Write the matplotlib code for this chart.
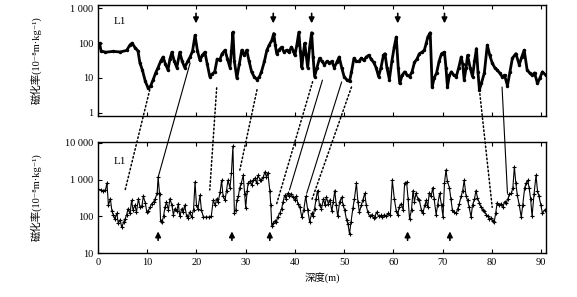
import numpy as np
import matplotlib
matplotlib.use("Agg")
import matplotlib.pyplot as plt
from matplotlib.patches import ConnectionPatch
from matplotlib.ticker import FixedLocator, NullLocator

plt.rcParams['font.family'] = ['Liberation Serif', 'DejaVu Serif', 'Noto Sans CJK SC']

# upper core: depth (m) / susceptibility
top_depth = [0, 0.3, 0.6, 1.5, 3, 4.5, 5.8, 6.5, 6.9, 7.5, 8.1, 8.5, 9.0, 9.6, 10.2, 10.7, 11.2, 11.7,
             12.2, 12.7, 13.2, 13.7, 14.2, 14.6, 15.0, 15.5, 16.0, 16.6, 17.1, 17.6, 18.2, 18.7, 19.2,
             19.7, 20.2, 20.7, 21.2, 21.7, 22.2, 22.7, 23.2, 23.7, 24.2, 24.7, 25.2, 25.8, 26.3, 26.8,
             27.1, 27.4, 27.7, 28.2, 28.7, 29.2, 29.7, 30.2, 30.7, 31.2, 31.7, 32.3, 32.8, 33.2, 33.8,
             34.3, 34.8, 35.3, 35.7, 36.0, 36.3, 36.8, 37.3, 37.8, 38.3, 38.8, 39.3, 39.7, 40.0, 40.4,
             40.8, 41.1, 41.4, 41.7, 42.0, 42.3, 42.6, 43.0, 43.4, 43.7, 44.0, 44.5, 45.0, 45.5, 46.0,
             46.5, 47.0, 47.5, 48.0, 48.5, 49.0, 49.5, 50.0, 50.5, 51.1, 51.5, 52.0, 52.5, 53.0, 53.5,
             54.0, 54.5, 55.0, 55.5, 56.0, 56.5, 57.0, 57.5, 58.0, 58.3, 58.7, 59.2, 59.7, 60.2, 60.6,
             61.0, 61.3, 61.8, 62.3, 62.8, 63.3, 63.8, 64.3, 64.8, 65.3, 65.8, 66.3, 66.7, 67.0, 67.5,
             67.9, 68.3, 68.8, 69.3, 69.8, 70.4, 70.7, 71.0, 71.4, 71.8, 72.3, 72.8, 73.3, 73.8, 74.1,
             74.4, 74.8, 75.1, 75.6, 76.1, 76.5, 76.9, 77.2, 77.5, 77.9, 78.5, 79.1, 79.6, 80.1, 80.6,
             81.1, 81.6, 82.1, 82.6, 83.2, 83.7, 84.2, 84.9, 85.6, 86.1, 86.6, 87.2, 87.7, 88.2, 88.7,
             89.3, 89.8, 90.3, 91]
top_val = [80, 100, 60, 55, 58, 56, 62, 90, 100, 75, 60, 27, 17, 8, 5, 6, 9, 14,
           20, 30, 40, 25, 17, 35, 55, 30, 20, 55, 30, 20, 30, 40, 60,
           168, 60, 32, 45, 55, 25, 11, 13, 15, 35, 32, 50, 63, 35, 20,
           60, 208, 30, 10, 25, 63, 45, 63, 30, 15, 11, 9, 11, 15, 30,
           63, 90, 120, 190, 90, 50, 65, 77, 55, 63, 55, 77, 60, 45, 90,
           208, 60, 20, 50, 100, 45, 20, 80, 200, 40, 11, 20, 37, 30, 24,
           30, 27, 30, 20, 28, 40, 20, 11, 9, 8, 15, 37, 30, 30, 37,
           32, 40, 45, 35, 28, 20, 11, 20, 45, 50, 20, 9, 30, 80, 150,
           20, 7, 12, 15, 12, 11, 15, 28, 35, 50, 55, 63, 100, 150, 200,
           5.5, 10, 14, 30, 50, 55, 20, 5.5, 12, 15, 12, 11, 20, 40, 25,
           9, 20, 45, 20, 11, 30, 70, 15, 4.6, 7, 14, 88, 45, 27, 20,
           17, 14, 11, 12, 6, 15, 37, 50, 24, 40, 63, 17, 14, 12, 14,
           7, 10, 15, 12]

# lower core
bot_depth = [0, 0.5, 1.0, 1.5, 1.8, 2.1, 2.5, 2.8, 3.1, 3.4, 3.8, 4.1, 4.5, 4.8, 5.2, 5.5, 5.8, 6.1,
             6.5, 6.8, 7.1, 7.5, 7.8, 8.2, 8.5, 8.9, 9.2, 9.6, 9.9, 10.2, 10.6, 10.9, 11.3, 11.6, 12.0,
             12.2, 12.5, 12.7, 13.0, 13.3, 13.6, 13.9, 14.3, 14.6, 15.0, 15.3, 15.6, 16.0, 16.3, 16.6,
             17.0, 17.3, 17.6, 18.0, 18.3, 18.6, 19.0, 19.4, 19.7, 20.0, 20.3, 20.7, 21.0, 21.4, 22.0,
             22.5, 23.0, 23.4, 23.8, 24.1, 24.4, 24.8, 25.1, 25.4, 25.8, 26.1, 26.4, 26.8, 27.1, 27.4,
             27.7, 28.0, 28.2, 28.5, 28.8, 29.1, 29.5, 29.8, 30.0, 30.3, 30.5, 30.9, 31.2, 31.5, 31.9,
             32.2, 32.5, 32.9, 33.2, 33.6, 33.9, 34.2, 34.5, 34.9, 35.1, 35.3, 35.6, 35.9, 36.2, 36.5,
             36.9, 37.3, 37.6, 37.9, 38.2, 38.5, 38.9, 39.2, 39.6, 40.0, 40.3, 40.6, 41.0, 41.4, 41.8,
             42.2, 42.6, 43.0, 43.4, 43.7, 44.0, 44.3, 44.6, 45.0, 45.4, 45.8, 46.1, 46.4, 46.8, 47.1,
             47.5, 47.8, 48.1, 48.4, 48.7, 49.1, 49.5, 49.8, 50.1, 50.5, 50.8, 51.1, 51.4, 51.8, 52.1,
             52.5, 52.8, 53.1, 53.5, 53.8, 54.2, 54.5, 54.8, 55.2, 55.6, 56.0, 56.2, 56.6, 57.0, 57.4,
             57.8, 58.2, 58.6, 59.0, 59.4, 59.8, 60.2, 60.6, 60.9, 61.2, 61.6, 62.0, 62.3, 62.7, 63.0,
             63.3, 63.7, 64.0, 64.3, 64.6, 65.0, 65.3, 65.7, 66.0, 66.4, 66.7, 67.0, 67.3, 67.7, 68.0,
             68.3, 68.7, 69.0, 69.4, 69.8, 70.1, 70.4, 70.7, 71.0, 71.4, 71.7, 72.0, 72.4, 72.8, 73.1,
             73.4, 73.8, 74.1, 74.4, 74.8, 75.1, 75.4, 75.8, 76.1, 76.5, 76.8, 77.1, 77.5, 77.8, 78.2,
             78.5, 78.9, 79.2, 79.5, 79.9, 80.2, 80.5, 80.8, 81.1, 81.5, 81.9, 82.3, 82.6, 82.9, 83.3,
             83.6, 84.0, 84.3, 84.6, 84.9, 85.2, 85.6, 86.0, 86.3, 86.7, 87.0, 87.3, 87.6, 87.9, 88.2,
             88.6, 89.0, 89.3, 89.6, 90.0, 90.3, 90.8]
bot_val = [540, 520, 500, 520, 800, 200, 300, 140, 110, 85, 120, 65, 80, 50, 70, 85, 110, 160,
           120, 270, 150, 200, 130, 300, 180, 190, 350, 230, 130, 140, 180, 220, 250, 300, 420,
           1150, 400, 75, 70, 100, 180, 240, 150, 300, 200, 110, 160, 140, 220, 100,
           160, 130, 200, 100, 90, 130, 95, 150, 850, 200, 160, 370, 150, 95, 95,
           95, 100, 270, 200, 300, 250, 450, 950, 350, 270, 500, 950, 600, 1500, 8000,
           125, 150, 270, 350, 600, 800, 1300, 400, 170, 500, 800, 900, 700, 950, 1100,
           800, 1300, 1000, 950, 1200, 1600, 1200, 1500, 500, 200, 55, 65, 75, 70, 95,
           120, 160, 250, 370, 300, 420, 350, 400, 330, 280, 350, 220, 180, 95, 150,
           350, 150, 70, 120, 100, 160, 300, 500, 200, 160, 300, 200, 330, 220, 280,
           140, 250, 500, 200, 100, 250, 330, 200, 150, 80, 60, 33, 70, 170, 300,
           800, 250, 130, 200, 280, 420, 200, 130, 100, 110, 90, 95, 130, 100, 105,
           95, 110, 100, 120, 110, 950, 300, 140, 110, 180, 220, 150, 800, 850, 300,
           85, 150, 500, 250, 420, 300, 270, 150, 120, 200, 270, 180, 420, 350, 600,
           300, 110, 200, 420, 200, 95, 800, 1800, 900, 600, 300, 150, 130, 120, 160,
           220, 350, 500, 950, 350, 270, 180, 95, 200, 300, 500, 320, 230, 180, 150,
           140, 110, 100, 85, 90, 75, 70, 120, 230, 200, 220, 180, 250, 230, 300,
           400, 420, 600, 2200, 800, 370, 200, 95, 200, 600, 800, 950, 600, 300, 100,
           400, 1300, 500, 350, 200, 120, 150]

top_arrows = [19.9, 35.6, 43.4, 60.9, 70.4]
bot_arrows = [12.2, 27.2, 34.9, 62.9, 71.5]

# correlation lines: (depth_top, val_top, depth_bot, val_bot, style)
links = [
    (10.5, 4.6, 5.5, 520, ':'),
    (18.7, 27, 12.2, 1150, '-'),
    (24.1, 5.2, 22.7, 520, ':'),
    (32.3, 4.6, 28.8, 1800, ':'),
    (43.6, 7.8, 36.3, 220, ':'),
    (45.6, 8.7, 38.9, 520, '-'),
    (49.5, 7.7, 42.4, 420, '-'),
    (51.5, 5.5, 43.4, 270, ':'),
    (77.5, 4.6, 80.1, 175, ':'),
    (82.1, 5.5, 83.2, 420, '-'),
]

ylab = '磁化率(10⁻⁸m·kg⁻¹)'

fig = plt.figure(figsize=(5.77, 2.97), dpi=100)
ax1 = fig.add_axes([0.170, 0.609, 0.776, 0.374])
ax2 = fig.add_axes([0.170, 0.148, 0.776, 0.374])

ax1.plot(top_depth, top_val, color='black', lw=2.0, marker='o', ms=2.5, mew=0)
ax2.plot(bot_depth, bot_val, color='black', lw=0.8, marker='+', ms=3, mew=0.8)

for ax in (ax1, ax2):
    ax.set_yscale('log')
    ax.set_xlim(0, 91)
    ax.xaxis.set_major_locator(FixedLocator(np.arange(0, 91, 10)))
    ax.yaxis.set_minor_locator(NullLocator())
    ax.tick_params(direction='in', top=True, right=False, labelsize=7.5, length=3, width=0.8)
    for s in ax.spines.values():
        s.set_linewidth(1.0)

ax1.set_ylim(0.8, 1250)
ax1.set_yticks([1, 10, 100, 1000])
ax1.set_yticklabels(['1', '10', '100', '1 000'])
ax1.set_xticklabels([])

ax2.set_ylim(10, 10500)
ax2.set_yticks([10, 100, 1000, 10000])
ax2.set_yticklabels(['10', '100', '1 000', '10 000'])
ax2.set_xlabel('深度(m)', fontsize=7.5, labelpad=4)

ax1.set_ylabel(ylab, fontsize=7.5)
ax2.set_ylabel(ylab, fontsize=7.5)
ax1.yaxis.set_label_coords(-0.125, 0.5)
ax2.yaxis.set_label_coords(-0.125, 0.5)

ax1.text(0.035, 0.85, 'L1', transform=ax1.transAxes, fontsize=8, va='center')
ax2.text(0.035, 0.82, 'L1', transform=ax2.transAxes, fontsize=8, va='center')

for d in top_arrows:
    ax1.annotate('', xy=(d, 0.81), xycoords=('data', 'axes fraction'),
                 xytext=(d, 0.95), textcoords=('data', 'axes fraction'),
                 arrowprops=dict(arrowstyle='-|>', color='black', lw=1.2, mutation_scale=8))
for d in bot_arrows:
    ax2.annotate('', xy=(d, 0.22), xycoords=('data', 'axes fraction'),
                 xytext=(d, 0.09), textcoords=('data', 'axes fraction'),
                 arrowprops=dict(arrowstyle='-|>', color='black', lw=1.2, mutation_scale=8))

for xa, ya, xb, yb, ls in links:
    con = ConnectionPatch(xyA=(xa, ya), coordsA='data', axesA=ax1,
                          xyB=(xb, yb), coordsB='data', axesB=ax2,
                          color='black', lw=1.1 if ls == ':' else 0.8, linestyle=ls)
    fig.add_artist(con)

fig.savefig('out.png', dpi=100)
